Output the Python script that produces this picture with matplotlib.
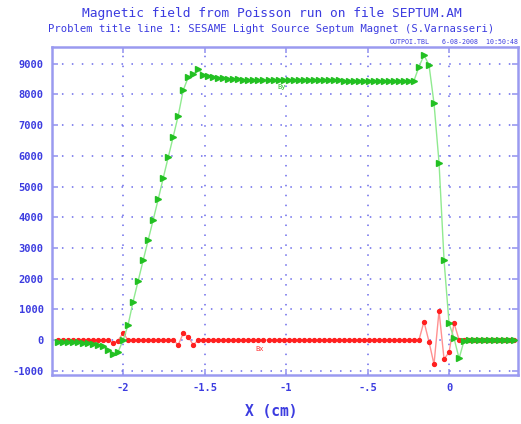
import numpy as np
import matplotlib
matplotlib.use("Agg")
import matplotlib.pyplot as plt

# sampling line of the Poisson run (cm)
x_start, x_end, n_points = -2.4, 0.4, 92

Bx = [0, 0, 0, 0, 0, 0, 0, 0, 0, 0, 0,
      -100, -20, 230,
      0, 0, 0, 0, 0, 0, 0, 0, 0, 0,
      -160, 220, 100, -160,
      0, 0, 0, 0, 0, 0, 0, 0, 0, 0, 0, 0, 0, 0, 0,
      0, 0, 0, 0, 0, 0, 0, 0, 0, 0, 0, 0, 0, 0, 0,
      0, 0, 0, 0, 0, 0, 0, 0, 0, 0, 0, 0, 0, 0, 0,
      600, -55, -790, 950, -620, -400, 550,
      0, 0, 0, 0, 0, 0, 0, 0, 0, 0, 0, 0]

By = [-50, -55, -60, -70, -80, -95, -110, -135, -165, -210,
      -330, -450, -390, -10, 490, 1250, 1920, 2590, 3250, 3910,
      4580, 5270, 5950, 6620, 7310, 8140, 8560, 8650, 8820, 8630,
      8590, 8560, 8540, 8530, 8510, 8500, 8490, 8480, 8480, 8470,
      8470, 8465, 8465, 8465, 8465, 8465, 8460, 8460, 8460, 8460,
      8460, 8455, 8455, 8455, 8455, 8455, 8455, 8450, 8450, 8450,
      8450, 8450, 8450, 8450, 8450, 8445, 8445, 8445, 8445, 8445,
      8445, 8445, 8900, 9280, 8960, 7710, 5780, 2600, 540, 55,
      -600, -20, -10, -10, -10, -10, -10, -10, -10, -10,
      -10, -10]

x_ticks = [-2, -1.5, -1, -0.5, 0]
x_tick_labels = ["-2", "-1.5", "-1", "-.5", "0"]
y_ticks = [-1000, 0, 1000, 2000, 3000, 4000, 5000, 6000, 7000, 8000, 9000]

title1 = "Magnetic field from Poisson run on file SEPTUM.AM"
title2 = "Problem title line 1: SESAME Light Source Septum Magnet (S.Varnasseri)"
file_note = "OUTPOI.TBL"
date_note = "6-08-2008  10:50:48"

x = np.linspace(x_start, x_end, n_points)

blue = "#3c3ce0"
frame = "#9a9af0"
mono = "DejaVu Sans Mono"

fig = plt.figure(figsize=(5.21, 4.24), dpi=100)
ax = fig.add_axes([52 / 521, 1 - 375 / 424, 466 / 521, 328 / 424])

ax.plot(x, Bx, color="#ff9090", lw=1.0, marker="o", ms=2.8,
        mfc="#ff2020", mec="#ff2020", zorder=3)
ax.plot(x, By, color="#90ea90", lw=1.0, marker=">", ms=4.3,
        mfc="#22c022", mec="#22c022", zorder=4)

ax.set_xlim(-2.436, 0.423)
ax.set_ylim(-1140, 9545)
ax.set_xticks(x_ticks)
ax.set_xticklabels(x_tick_labels)
ax.set_yticks(y_ticks)
ax.set_yticklabels([str(v) for v in y_ticks])

ax.grid(True, color="#6a6aea", linestyle=(0, (1.0, 5.5)), linewidth=1.1)
ax.tick_params(direction="in", length=4, width=1.2, color=frame,
               top=True, right=True, labelsize=7.5, labelcolor=blue, pad=6)
for lab in ax.get_xticklabels() + ax.get_yticklabels():
    lab.set_fontfamily(mono)
    lab.set_fontweight("bold")
for side, sp in ax.spines.items():
    sp.set_color(frame)
    sp.set_linewidth(1.8)

ax.text(-1.026, 8250, "By", color="#22c022", fontsize=5, family=mono,
        ha="center", va="center")
ax.text(-1.16, -290, "Bx", color="#ff3030", fontsize=5, family=mono,
        ha="center", va="center")

fig.text(272 / 521, 1 - 13 / 424, title1, color=blue, fontsize=9.3,
         family=mono, ha="center", va="center")
fig.text(271 / 521, 1 - 29 / 424, title2, color=blue, fontsize=7.6,
         family=mono, ha="center", va="center")
fig.text(410 / 521, 1 - 42 / 424, file_note, color=blue, fontsize=4.8,
         family=mono, ha="center", va="center")
fig.text(518 / 521, 1 - 42 / 424, date_note, color=blue, fontsize=4.8,
         family=mono, ha="right", va="center")
fig.text(271 / 521, 1 - 412 / 424, "X (cm)", color=blue, fontsize=10.5,
         family=mono, fontweight="bold", ha="center", va="center")

fig.savefig("out.png", dpi=100, facecolor="white")
